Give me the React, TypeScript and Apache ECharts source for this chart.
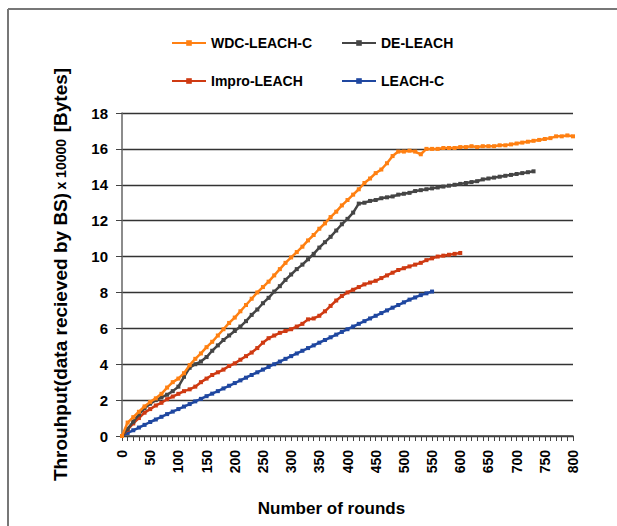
import React, { useEffect, useRef } from "react";
import * as echarts from "echarts";

const rounds = [
  0, 10, 20, 30, 40, 50, 60, 70, 80, 90, 100, 110, 120, 130, 140, 150, 160, 170, 180, 190,
  200, 210, 220, 230, 240, 250, 260, 270, 280, 290, 300, 310, 320, 330, 340, 350, 360, 370, 380, 390,
  400, 410, 420, 430, 440, 450, 460, 470, 480, 490, 500, 510, 520, 530, 540, 550, 560, 570, 580, 590,
  600, 610, 620, 630, 640, 650, 660, 670, 680, 690, 700, 710, 720, 730, 740, 750, 760, 770, 780, 790, 800,
];

const wdcLeachC = [
  0, 0.75, 1.05, 1.35, 1.65, 1.9, 2.1, 2.35, 2.7, 3.0, 3.2, 3.5, 3.95, 4.3, 4.6, 4.95, 5.25, 5.6, 5.95, 6.3,
  6.6, 6.95, 7.3, 7.65, 8.0, 8.3, 8.6, 8.95, 9.3, 9.65, 9.95, 10.25, 10.55, 10.9, 11.2, 11.55, 11.85, 12.2, 12.5, 12.85,
  13.15, 13.45, 13.75, 14.1, 14.35, 14.65, 14.85, 15.2, 15.6, 15.85, 15.85, 15.9, 15.85, 15.7, 16.0, 16.0, 16.0, 16.05, 16.05, 16.05,
  16.1, 16.1, 16.15, 16.1, 16.15, 16.15, 16.15, 16.2, 16.2, 16.25, 16.3, 16.35, 16.4, 16.45, 16.5, 16.55, 16.6, 16.7, 16.7, 16.75, 16.7,
];

const deLeach = [
  0, 0.4, 0.8, 1.2, 1.55, 1.8, 2.0, 2.15, 2.3, 2.5, 2.75, 3.3, 3.8, 4.0, 4.15, 4.4, 4.75, 5.05, 5.35, 5.6,
  5.85, 6.1, 6.4, 6.75, 7.05, 7.4, 7.7, 8.05, 8.35, 8.7, 9.0, 9.3, 9.55, 9.85, 10.15, 10.5, 10.8, 11.1, 11.45, 11.8,
  12.1, 12.45, 12.95, 13.0, 13.1, 13.15, 13.25, 13.3, 13.35, 13.45, 13.5, 13.55, 13.65, 13.7, 13.75, 13.8, 13.85, 13.9, 13.95, 14.0,
  14.05, 14.1, 14.15, 14.2, 14.3, 14.35, 14.4, 14.45, 14.5, 14.55, 14.6, 14.65, 14.7, 14.75,
];

const improLeach = [
  0, 0.35, 0.7, 1.0, 1.3, 1.5, 1.7, 1.85, 2.05, 2.2, 2.35, 2.5, 2.6, 2.75, 3.0, 3.2, 3.4, 3.55, 3.7, 3.9,
  4.05, 4.25, 4.45, 4.65, 4.9, 5.2, 5.45, 5.6, 5.75, 5.85, 5.95, 6.1, 6.25, 6.5, 6.55, 6.7, 6.95, 7.25, 7.55, 7.8,
  8.0, 8.15, 8.3, 8.45, 8.55, 8.65, 8.8, 8.95, 9.1, 9.25, 9.35, 9.45, 9.55, 9.65, 9.8, 9.9, 10.0, 10.05, 10.1, 10.15,
  10.2,
];

const leachC = [
  0, 0.17, 0.32, 0.47, 0.62, 0.78, 0.92, 1.07, 1.22, 1.36, 1.5, 1.64, 1.78, 1.93, 2.07, 2.22, 2.36, 2.5, 2.65, 2.8,
  2.95, 3.1, 3.25, 3.4, 3.55, 3.7, 3.85, 4.0, 4.15, 4.3, 4.45, 4.6, 4.75, 4.9, 5.05, 5.2, 5.35, 5.5, 5.65, 5.8,
  5.95, 6.1, 6.25, 6.4, 6.55, 6.7, 6.85, 7.0, 7.15, 7.3, 7.45, 7.6, 7.72, 7.85, 7.95, 8.05,
];

const seriesNames = ["WDC-LEACH-C", "DE-LEACH", "Impro-LEACH", "LEACH-C"];
const seriesColors = ["#FF8012", "#454545", "#CF3A12", "#1F47A0"];
const seriesValues = [wdcLeachC, deLeach, improLeach, leachC];

const FONT = "'Liberation Sans', Arial, sans-serif";

export default function App() {
  const ref = useRef<HTMLDivElement>(null);

  useEffect(() => {
    if (!ref.current) return;
    const chart = echarts.init(ref.current, null, { renderer: "svg" });

    const legendPos = [
      { left: 166, top: 31 },
      { left: 336, top: 31 },
      { left: 166, top: 69 },
      { left: 336, top: 69 },
    ];

    chart.setOption({
      animation: false,
      backgroundColor: "#ffffff",
      textStyle: { fontFamily: FONT },
      grid: { left: 122, right: 44, top: 113, bottom: 90 },
      legend: seriesNames.map((n, i) => ({
        data: [n],
        left: legendPos[i].left,
        top: legendPos[i].top,
        itemWidth: 34,
        itemHeight: 7,
        itemGap: 4,
        textStyle: { fontSize: 14, fontWeight: "bold", color: "#000", fontFamily: FONT },
      })),
      xAxis: {
        type: "value",
        min: 0,
        max: 800,
        interval: 50,
        name: "Number of rounds",
        nameLocation: "middle",
        nameGap: 64,
        nameTextStyle: {
          fontSize: 17,
          fontWeight: "bold",
          color: "#000",
          fontFamily: FONT,
          padding: [0, 32, 0, 0],
        },
        axisLine: { show: true, onZero: false, lineStyle: { color: "#444", width: 1.5 } },
        axisTick: { show: true, length: 5, inside: false, lineStyle: { color: "#444" } },
        minorTick: { show: true, splitNumber: 5, length: 5, lineStyle: { color: "#444" } },
        splitLine: { show: false },
        axisLabel: {
          rotate: 90,
          fontSize: 14,
          fontWeight: "bold",
          color: "#000",
          margin: 14,
          fontFamily: FONT,
        },
      },
      yAxis: {
        type: "value",
        min: 0,
        max: 18,
        interval: 2,
        name: "{a|Throuhput(data recieved by BS)} {b|x 10000}  {a|[Bytes]}",
        nameLocation: "middle",
        nameGap: 52,
        nameRotate: 90,
        nameTextStyle: {
          color: "#000",
          fontFamily: FONT,
          rich: {
            a: { fontSize: 19, fontWeight: "bold", color: "#000", fontFamily: FONT },
            b: { fontSize: 14, fontWeight: "bold", color: "#000", fontFamily: FONT },
          },
        },
        axisLine: { show: true, lineStyle: { color: "#666", width: 1.5 } },
        axisTick: { show: true, length: 6, inside: false, lineStyle: { color: "#444" } },
        splitLine: { show: true, lineStyle: { color: "#333", width: 1.3 } },
        axisLabel: { fontSize: 15, fontWeight: "bold", color: "#000", margin: 14, fontFamily: FONT },
      },
      graphic: [
        { type: "line", shape: { x1: 8, y1: 9, x2: 8, y2: 526 }, style: { stroke: "#777", lineWidth: 2 } },
        { type: "line", shape: { x1: 8, y1: 9, x2: 617, y2: 9 }, style: { stroke: "#777", lineWidth: 2 } },
      ],
      series: seriesNames.map((n, i) => ({
        name: n,
        type: "line",
        data: seriesValues[i].map((v, k) => [rounds[k], v]),
        symbol: "rect",
        symbolSize: 4,
        showSymbol: true,
        lineStyle: { color: seriesColors[i], width: 2.5 },
        itemStyle: { color: seriesColors[i] },
        z: 10 - i,
      })),
    });

    return () => chart.dispose();
  }, []);

  return <div ref={ref} style={{ width: 617, height: 526, position: "absolute", left: 0, top: 0 }} />;
}
